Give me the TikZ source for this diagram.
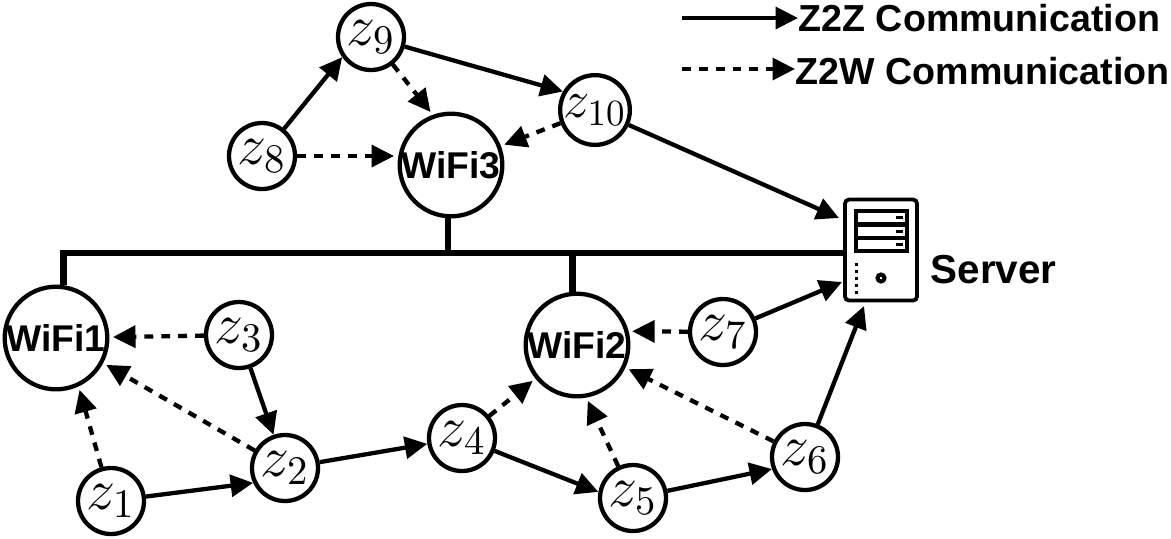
\RequirePackage{fix-cm}
\documentclass[tikz,border=0pt]{standalone}
\usepackage[no-math]{fontspec}
\usetikzlibrary{arrows.meta}
\newfontfamily\labelfont{Liberation Sans}[BoldFont={Liberation Sans Bold}]
\tikzset{
    zignode/.style={circle,draw,line width=.43mm,minimum size=6.6mm,inner sep=0pt,font=\fontsize{16.5}{16.5}\selectfont},
    wifinode/.style={circle,draw,line width=.43mm,minimum size=9.9mm,inner sep=0pt,font=\labelfont\bfseries\fontsize{10.6}{12}\selectfont},
    legendtext/.style={inner sep=0pt,anchor=west,font=\labelfont\bfseries\fontsize{10.7}{12}\selectfont},
    zzlink/.style={-{Triangle[length=6.4pt,width=6.2pt]},line width=.43mm},
    zwlink/.style={-{Triangle[length=6.4pt,width=6.2pt]},line width=.43mm,dash pattern=on 2.5pt off 2.3pt,shorten >=1pt},
    busline/.style={line width=.65mm},
}
\begin{document}
\begin{tikzpicture}[x=.1mm,y=-.1mm]
    \useasboundingbox (0,0) rectangle (1171,538);
    \node[zignode] (z1) at (111,501) {$z_1$};
    \node[zignode] (z2) at (285,468) {$z_2$};
    \node[zignode] (z3) at (239,335) {$z_3$};
    \node[zignode] (z4) at (462,438) {$z_4$};
    \node[zignode] (z5) at (633,498) {$z_5$};
    \node[zignode] (z6) at (805,457) {$z_6$};
    \node[zignode] (z7) at (723,332) {$z_7$};
    \node[zignode] (z8) at (262,156) {$z_8$};
    \node[zignode] (z9) at (371,37) {$z_9$};
    \node[zignode,font=\fontsize{15}{15}\selectfont] (z10) at (595,110) {$z_{10}$};
    \node[wifinode] (wifi1) at (56,338) {WiFi1};
    \node[wifinode] (wifi2) at (577,345) {WiFi2};
    \node[wifinode] (wifi3) at (451,165) {WiFi3};

    \node[draw,rounded corners=.4mm,line width=.38mm,minimum width=7.2mm,minimum height=10.1mm,inner sep=0pt] (server) at (881,250) {};
    \foreach \ytop in {211,225,238}{
        \draw[line width=.33mm] (856,\ytop) rectangle (907,\ytop+13);
        \fill (896,\ytop+5) rectangle (903,\ytop+8);
    }
    \foreach \ydot in {263,270,277,284,291}
        \fill (855,\ydot) rectangle (858,\ydot+2.5);
    \draw[line width=.4mm] (881,278) circle (.35mm);
    \node[legendtext,font=\labelfont\bfseries\fontsize{11.5}{12}\selectfont] (serverlabel) at (930,270) {Server};

    \coordinate (busend) at (server.west |- 0,253);
    \draw[busline] (wifi1.82) |- (busend);
    \draw[busline] (wifi2.95) -- (wifi2.95 |- busend);
    \draw[busline] (wifi3.267) -- (wifi3.267 |- busend);

    \draw[zzlink] (z1) -- (z2.205);
    \draw[zzlink] (z3) -- (z2);
    \draw[zzlink] (z2) -- (z4);
    \draw[zzlink] (z4) -- (z5.170);
    \draw[zzlink] (z5) -- (z6.200);
    \draw[zzlink] (z8) -- (z9.215);
    \draw[zzlink] (z9) -- (z10.150);
    \coordinate (tipten) at (839,218);
    \coordinate (tipseven) at (842,282);
    \coordinate (tipsix) at (864,306);
    \draw[zzlink] (z10) -- (tipten);
    \draw[zzlink] (z7) -- (tipseven);
    \draw[zzlink] (z6) -- (tipsix);

    \draw[zwlink] (z3) -- (wifi1);
    \draw[zwlink] (z1) -- (wifi1.-65);
    \draw[zwlink] (z2) -- (wifi1.-28);
    \draw[zwlink] (z4) -- (wifi2);
    \draw[zwlink] (z5) -- (wifi2.-80);
    \draw[zwlink] (z6) -- (wifi2.-25);
    \draw[zwlink] (z7) -- (wifi2.15);
    \draw[zwlink] (z8) -- (z8 -| wifi3.west);
    \draw[zwlink] (z9) -- (wifi3.110);
    \draw[zwlink] (z10) -- (wifi3);

    \node[legendtext] (zzlabel) at (798,18) {Z2Z Communication};
    \node[legendtext] (zwlabel) at (795,71) {Z2W Communication};
    \coordinate (zzstart) at (682,18);
    \coordinate (zwstart) at (682,69);
    \draw[zzlink] (zzstart) -- (zzlabel.west);
    \draw[zwlink,shorten >=0pt] (zwstart) -- (zwlabel.west |- zwstart);
\end{tikzpicture}
\end{document}
